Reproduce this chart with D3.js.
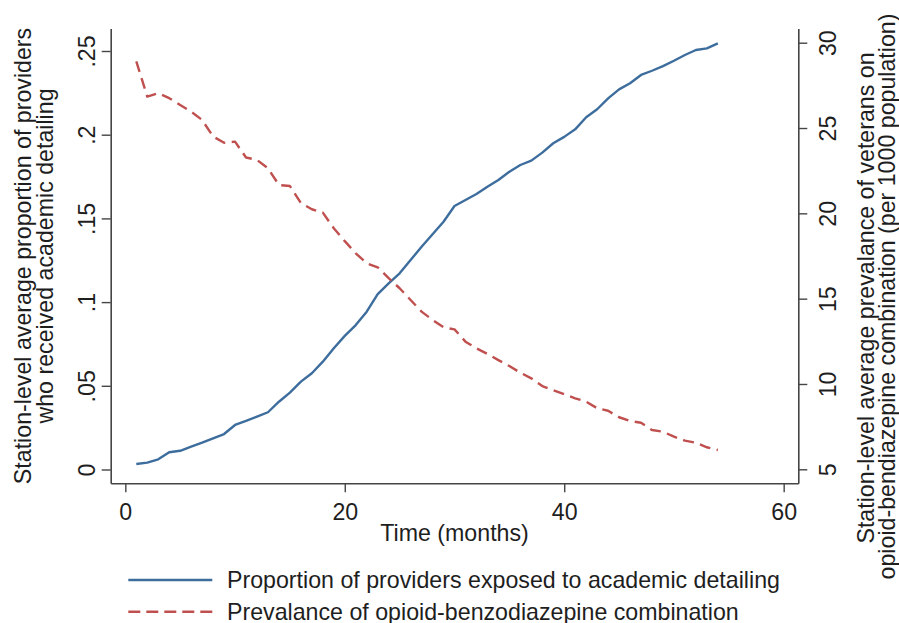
<!DOCTYPE html>
<html>
<head>
<meta charset="utf-8">
<script src="https://cdn.jsdelivr.net/npm/d3@7"></script>
<style>
  html, body { margin: 0; padding: 0; background: #fff; }
  svg { display: block; }
  text { font-family: "Liberation Sans", Arial, Helvetica, sans-serif; fill: #1e1e1e; }
</style>
</head>
<body>
<svg id="chart" width="899" height="623"></svg>
<script>
// ---- data ----
const months = [1,2,3,4,5,6,7,8,9,10,11,12,13,14,15,16,17,18,19,20,21,22,23,24,25,26,27,
  28,29,30,31,32,33,34,35,36,37,38,39,40,41,42,43,44,45,46,47,48,49,50,51,52,53,54];
const proportionExposed = [0.0033,0.0041,0.0061,0.0103,0.0112,0.0136,0.0160,0.0186,0.0212,0.0266,
  0.0290,0.0316,0.0342,0.0405,0.0459,0.0525,0.0575,0.0644,0.0724,0.0798,0.0863,0.0943,0.1048,0.1112,
  0.1172,0.1251,0.1331,0.1405,0.1480,0.1574,0.1610,0.1646,0.1689,0.1729,0.1779,0.1819,0.1845,0.1893,
  0.1949,0.1987,0.2032,0.2104,0.2152,0.2217,0.2271,0.2307,0.2357,0.2382,0.2410,0.2442,0.2476,0.2506,
  0.2516,0.2546];
const prevalence = [28.9,26.84,27.04,26.75,26.35,25.96,25.47,24.5,24.14,24.2,23.27,23.13,22.64,21.66,
  21.6,20.6,20.24,20.04,19.13,18.37,17.66,17.07,16.84,16.2,15.61,14.92,14.24,13.75,13.32,13.2,12.48,
  12.09,11.76,11.4,11.05,10.66,10.33,9.88,9.63,9.4,9.16,8.96,8.58,8.43,8.05,7.83,7.73,7.3,7.2,6.91,
  6.68,6.56,6.29,6.13];
const xTicks = [0, 20, 40, 60];
const leftTicks = [0, 0.05, 0.1, 0.15, 0.2, 0.25];
const leftTickLabels = ["0", ".05", ".1", ".15", ".2", ".25"];
const rightTicks = [5, 10, 15, 20, 25, 30];
const xTitle = "Time (months)";
const leftTitle = ["Station-level average proportion of providers", "who received academic detailing"];
const rightTitle = ["Station-level average prevalance of veterans on", "opioid-bendiazepine combination (per 1000 population)"];
const legendLabels = ["Proportion of providers exposed to academic detailing", "Prevalance of opioid-benzodiazepine combination"];

// ---- layout ----
const svg = d3.select("#chart");
const plotL = 110.7, plotR = 798.3, plotT = 28.5, plotB = 483.3;
const FS = 23.2;
const axisColor = "#454545";
const blue = "#3d6d9d";
const red = "#c0504f";

const x = d3.scaleLinear().domain([-1.333, 61.333]).range([plotL, plotR]);
const yL = d3.scaleLinear().domain([-0.00824, 0.26344]).range([plotB, plotT]);
const yR = d3.scaleLinear().domain([4.1796, 30.832]).range([plotB, plotT]);

// x axis
const gx = svg.append("g").attr("transform", `translate(0,${plotB})`)
  .call(d3.axisBottom(x).tickValues(xTicks).tickSize(9).tickSizeOuter(0).tickPadding(10).tickFormat(d3.format("d")));
// left axis
const gl = svg.append("g").attr("transform", `translate(${plotL},0)`)
  .call(d3.axisLeft(yL).tickValues(leftTicks).tickSize(9).tickSizeOuter(0)
    .tickFormat((d, i) => leftTickLabels[i]));
// right axis
const gr = svg.append("g").attr("transform", `translate(${plotR},0)`)
  .call(d3.axisRight(yR).tickValues(rightTicks).tickSize(9).tickSizeOuter(0).tickFormat(d3.format("d")));

[gx, gl, gr].forEach(g => {
  g.selectAll("path.domain").attr("stroke", axisColor).attr("stroke-width", 1.6);
  g.selectAll(".tick line").attr("stroke", axisColor).attr("stroke-width", 1.4);
  g.selectAll(".tick text").attr("font-size", FS).attr("fill", "#1e1e1e")
    .attr("font-family", '"Liberation Sans", Arial, sans-serif');
});
gx.selectAll(".tick text").attr("dy", null).attr("y", 36.5);
// rotate y tick labels (read bottom-to-top)
gl.selectAll(".tick text")
  .attr("x", null).attr("dy", null).attr("text-anchor", "middle")
  .attr("transform", "translate(-15.7,0) rotate(-90)").attr("y", 0);
gr.selectAll(".tick text")
  .attr("x", null).attr("dy", null).attr("text-anchor", "middle")
  .attr("transform", "translate(37.7,0) rotate(-90)").attr("y", 0);

// lines
const lineBlue = d3.line().x((d, i) => x(months[i])).y(d => yL(d));
const lineRed = d3.line().x((d, i) => x(months[i])).y(d => yR(d));
svg.append("path").datum(proportionExposed).attr("d", lineBlue)
  .attr("fill", "none").attr("stroke", blue).attr("stroke-width", 2.4).attr("stroke-linejoin", "round");
svg.append("path").datum(prevalence).attr("d", lineRed)
  .attr("fill", "none").attr("stroke", red).attr("stroke-width", 2.4)
  .attr("stroke-dasharray", "11,6.5").attr("stroke-linejoin", "round");

// axis titles
svg.append("text").attr("x", (plotL + plotR) / 2).attr("y", 541).attr("text-anchor", "middle")
  .attr("font-size", FS).text(xTitle);
const ltBase = [31, 52.5];
leftTitle.forEach((t, i) => {
  svg.append("text").attr("transform", `translate(${ltBase[i]},256) rotate(-90)`)
    .attr("text-anchor", "middle").attr("font-size", FS).text(t);
});
const rtBase = [874, 895];
const rtCenter = [298, 296.5];
rightTitle.forEach((t, i) => {
  svg.append("text").attr("transform", `translate(${rtBase[i]},${rtCenter[i]}) rotate(-90)`)
    .attr("text-anchor", "middle").attr("font-size", FS).text(t);
});

// legend
const legY = [580, 611.7];
const legBase = [588, 620];
const legColors = [blue, red];
legendLabels.forEach((lab, i) => {
  const ln = svg.append("line").attr("x1", 128.3).attr("x2", 212.3).attr("y1", legY[i]).attr("y2", legY[i])
    .attr("stroke", legColors[i]).attr("stroke-width", 2.4);
  if (i === 1) ln.attr("stroke-dasharray", "12,6");
  svg.append("text").attr("x", 227).attr("y", legBase[i]).attr("font-size", FS).text(lab);
});
</script>
</body>
</html>
